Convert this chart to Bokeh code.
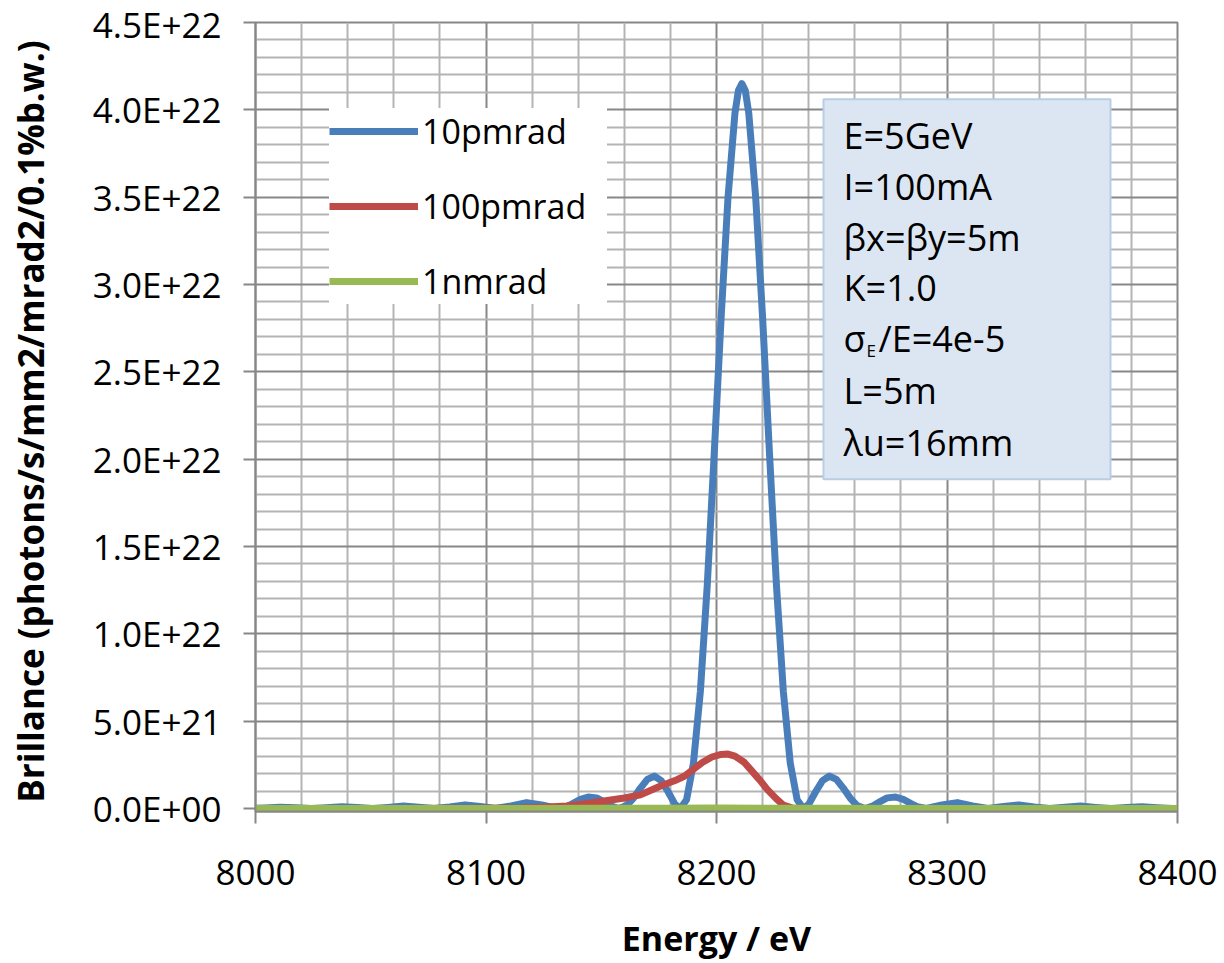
from bokeh.plotting import figure
from bokeh.models import (Range1d, FixedTicker, CustomJSTickFormatter, Legend,
                          LegendItem, BoxAnnotation, Label)
from bokeh.embed import file_html
from bokeh.resources import INLINE

# ---------------- data (brilliance in units of 1e21) ----------------
energy_10pm = [8000, 8004, 8010.7, 8017.4, 8024.1, 8030.8, 8037.5, 8044.1, 8050.8, 8057.5,
               8064.2, 8070.8, 8077.5, 8084.2, 8090.9, 8097.5, 8104.2, 8110.9, 8117.6, 8124.2,
               8130.9, 8135, 8137.6, 8141, 8144.3, 8148, 8151, 8154, 8157.6, 8161,
               8164, 8167, 8170, 8173, 8176, 8179, 8182, 8184.3, 8187, 8190,
               8193, 8196, 8199, 8202, 8205, 8208, 8209.5, 8211, 8212.5, 8214,
               8217, 8220, 8223, 8226, 8229, 8232, 8235, 8237.7, 8240, 8243,
               8246, 8249, 8252, 8255, 8258, 8261, 8264.4, 8268, 8271, 8274,
               8277.7, 8281, 8284.4, 8287, 8291.1, 8297.8, 8304.5, 8311.1, 8317.8, 8324.5,
               8331.2, 8337.8, 8344.5, 8351.2, 8357.9, 8364.5, 8371.2, 8377.9, 8384.6, 8391.2,
               8397.9, 8400]
bril_10pm = [0.01, 0.035, 0.075, 0.04, 0.0, 0.046, 0.10, 0.054, 0.0, 0.064,
             0.14, 0.076, 0.0, 0.093, 0.21, 0.116, 0.0, 0.15, 0.34, 0.20,
             0.0, 0.11, 0.28, 0.53, 0.66, 0.61, 0.40, 0.16, 0.0, 0.17,
             0.60, 1.17, 1.67, 1.86, 1.60, 0.96, 0.24, 0.0, 0.5, 2.6,
             6.7, 12.8, 20.3, 28.1, 35.0, 39.8, 41.1, 41.5, 41.1, 39.8,
             35.0, 28.1, 20.3, 12.8, 6.7, 2.6, 0.5, 0.0, 0.24, 0.96,
             1.60, 1.86, 1.67, 1.17, 0.60, 0.17, 0.0, 0.16, 0.40, 0.61,
             0.66, 0.53, 0.28, 0.11, 0.0, 0.20, 0.34, 0.15, 0.0, 0.116,
             0.21, 0.093, 0.0, 0.076, 0.14, 0.064, 0.0, 0.054, 0.10, 0.046,
             0.0, 0.005]

energy_100pm = [8000, 8050, 8100, 8115, 8125, 8135, 8145, 8152, 8160, 8167,
                8175, 8182, 8186, 8190, 8194, 8198, 8202, 8205, 8208, 8212,
                8215, 8219, 8222, 8226, 8229, 8233, 8240, 8300, 8400]
bril_100pm = [0.0, 0.0, 0.01, 0.03, 0.08, 0.15, 0.30, 0.45, 0.60, 0.78,
              1.25, 1.60, 1.85, 2.25, 2.65, 2.95, 3.10, 3.12, 3.00, 2.65,
              2.20, 1.60, 1.10, 0.55, 0.20, 0.03, 0.0, 0.0, 0.0]

energy_1nm = [8000, 8100, 8150, 8180, 8200, 8220, 8250, 8300, 8400]
bril_1nm = [0.0, 0.0, 0.01, 0.02, 0.03, 0.02, 0.01, 0.0, 0.0]

series_names = ["10pmrad", "100pmrad", "1nmrad"]
series_colors = ["#4A7EBB", "#BE4B48", "#98B954"]

x_ticks = [8000, 8100, 8200, 8300, 8400]
x_minor = [8000 + 20 * k for k in range(21) if k % 5]
y_ticks = [0, 5e21, 1e22, 1.5e22, 2e22, 2.5e22, 3e22, 3.5e22, 4e22, 4.5e22]
y_minor = [k * 1e21 for k in range(46) if k % 5]

param_lines = ["E=5GeV", "I=100mA", "\u03b2x=\u03b2y=5m", "K=1.0", None, "L=5m", "\u03bbu=16mm"]
sigma_parts = ["\u03c3", "E", "/E=4e-5"]

UNIT = 1e21
FONT = "Open Sans"

# ---------------- figure ----------------
Y0 = -1.7e20
p = figure(width=1224, height=963, output_backend="svg", toolbar_location=None,
           x_range=Range1d(8000, 8400), y_range=Range1d(Y0, 4.5e22),
           min_border_left=255, min_border_right=47, min_border_top=22, min_border_bottom=150)
p.background_fill_color = "white"
p.border_fill_color = "white"
p.outline_line_color = "#878787"
p.outline_line_width = 2

MAJ = "#878787"
MIN = "#b4b4b4"

p.xaxis.ticker = FixedTicker(ticks=x_ticks, minor_ticks=x_minor)
p.yaxis.ticker = FixedTicker(ticks=y_ticks, minor_ticks=y_minor)
p.xgrid.ticker = p.xaxis[0].ticker
p.ygrid.ticker = p.yaxis[0].ticker

p.yaxis.formatter = CustomJSTickFormatter(code="""
    var s = tick.toExponential(1).toUpperCase();
    var parts = s.split('E');
    var e = parseInt(parts[1]);
    var a = Math.abs(e);
    return parts[0] + 'E' + (e < 0 ? '-' : '+') + (a < 10 ? '0' : '') + a;
""")

for ax in (p.xaxis, p.yaxis):
    ax.axis_line_color = MAJ
    ax.axis_line_width = 2
    ax.major_tick_line_color = MAJ
    ax.major_tick_line_width = 2
    ax.major_tick_out = 12
    ax.major_tick_in = 0
    ax.minor_tick_out = 0
    ax.minor_tick_in = 0
    ax.major_label_text_font = FONT
    ax.major_label_text_font_size = "35px"
    ax.major_label_text_color = "black"
    ax.axis_label_text_font = FONT
    ax.axis_label_text_font_style = "bold"
    ax.axis_label_text_color = "black"

p.xaxis.major_label_standoff = 36
p.yaxis.major_label_standoff = 22
p.xaxis.axis_label = "Energy / eV"
p.xaxis.axis_label_text_font_size = "34px"
p.xaxis.axis_label_standoff = 27
p.yaxis.axis_label = "Brillance  (photons/s/mm2/mrad2/0.1%b.w.)"
p.yaxis.axis_label_text_font_size = "35px"
p.yaxis.axis_label_standoff = 36

for g in (p.xgrid, p.ygrid):
    g.grid_line_color = MAJ
    g.grid_line_width = 2
    g.minor_grid_line_color = MIN
    g.minor_grid_line_width = 2

# ---------------- series ----------------
xs = [energy_10pm, energy_100pm, energy_1nm]
ys = [bril_10pm, bril_100pm, bril_1nm]
renderers = []
for x, y, c in zip(xs, ys, series_colors):
    r = p.line(x, [v * UNIT for v in y], line_color=c, line_width=7, line_join="round")
    renderers.append(r)

legend = Legend(items=[LegendItem(label=n, renderers=[r]) for n, r in zip(series_names, renderers)],
                location=(74, 507), padding=12, spacing=29, glyph_width=89, glyph_height=46,
                label_height=46, label_width=185, label_standoff=4, margin=0,
                label_text_font=FONT, label_text_font_size="34px", label_text_color="black",
                background_fill_color="white", background_fill_alpha=1.0,
                border_line_color=None)
p.add_layout(legend)

# ---------------- parameter box ----------------
def px2x(px):
    return 8000 + (px - 255) / 922 * 400

def px2y(py):
    return (813 - py) / 791 * (4.5e22 - Y0) + Y0

p.add_layout(BoxAnnotation(left=px2x(823), right=px2x(1110), top=px2y(99), bottom=px2y(480),
                           fill_color="#DCE6F2", fill_alpha=1.0, line_color="#B9CDE5",
                           line_width=2, line_alpha=1.0))

SHIFT = 14
baselines = [149, 200, 252, 302, 353, 405, 457]
for txt, b in zip(param_lines, baselines):
    if txt is None:
        continue
    p.add_layout(Label(x=px2x(843), y=px2y(b - SHIFT), text=txt, text_font=FONT,
                       text_font_size="36px", text_baseline="alphabetic", text_color="black"))
p.add_layout(Label(x=px2x(843), y=px2y(353 - SHIFT), text=sigma_parts[0], text_font=FONT,
                   text_font_size="36px", text_baseline="alphabetic", text_color="black"))
p.add_layout(Label(x=px2x(866), y=px2y(365 - SHIFT), text=sigma_parts[1], text_font=FONT,
                   text_font_size="17px", text_baseline="alphabetic", text_color="black"))
p.add_layout(Label(x=px2x(878), y=px2y(353 - SHIFT), text=sigma_parts[2], text_font=FONT,
                   text_font_size="36px", text_baseline="alphabetic", text_color="black"))

open("out.html", "w").write(file_html(p, INLINE))
